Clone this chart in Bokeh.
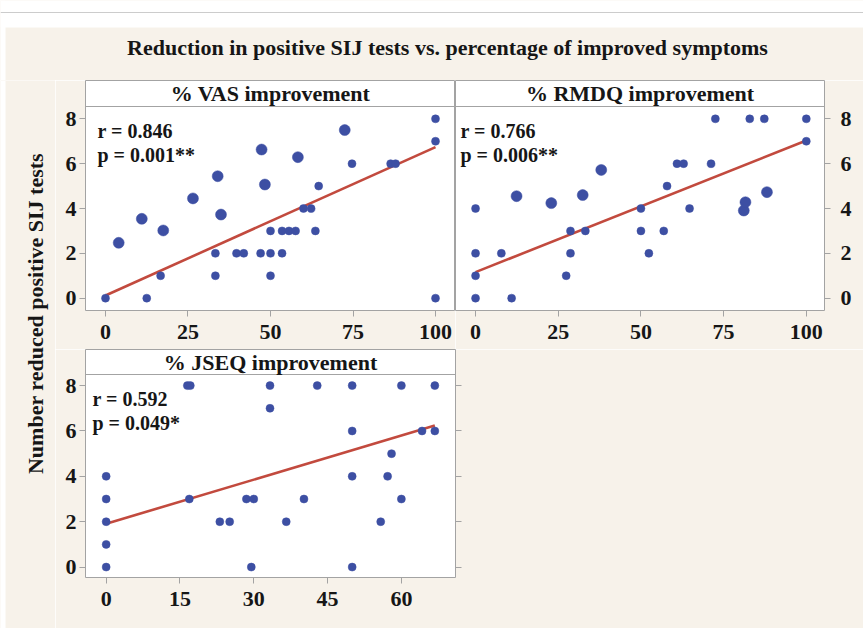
import math
from bokeh.plotting import figure
from bokeh.models import (Range1d, Label, Span, BoxAnnotation, LinearAxis,
                          FixedTicker, ColumnDataSource)
from bokeh.layouts import column, row
from bokeh.embed import file_html
from bokeh.resources import INLINE

# ---------------- data ----------------
TITLE = "Reduction in positive SIJ tests vs. percentage of improved symptoms"
Y_LABEL = "Number reduced positive SIJ tests"

vas_header = "% VAS improvement"
vas_x = [0, 4, 11, 12.5, 16.7, 17.5, 26.5, 33.3, 33.3, 34, 35, 39.7, 41.9, 47,
         47.3, 48.3, 50, 50, 50, 53.5, 53.5, 55.6, 57.6, 58.3, 60, 62.3, 63.6,
         64.6, 72.5, 74.7, 86.4, 87.9, 100, 100, 100]
vas_y = [0, 2.47, 3.54, 0, 1, 3.02, 4.45, 2, 1, 5.44, 3.73, 2, 2, 2,
         6.63, 5.07, 3, 2, 1, 2, 3, 3, 3, 6.29, 4, 4, 3,
         5, 7.5, 6, 6, 6, 8, 7, 0]
vas_big = [0, 1, 1, 0, 0, 1, 1, 0, 0, 1, 1, 0, 0, 0,
           1, 1, 0, 0, 0, 0, 0, 0, 0, 1, 0, 0, 0,
           0, 1, 0, 0, 0, 0, 0, 0]
vas_r = "r = 0.846"
vas_p = "p = 0.001**"
vas_fit = (0.12, 0.0662)   # intercept, slope

rm_header = "% RMDQ improvement"
rm_x = [0, 0, 0, 0, 7.8, 10.9, 12.4, 22.9, 27.4, 28.7, 28.7, 32.4, 33.2, 38,
        50, 50, 52.4, 56.9, 57.9, 60.9, 62.9, 64.7, 71.2, 72.5, 81.1, 81.6,
        82.9, 87.3, 88.1, 100, 100]
rm_y = [4, 2, 1, 0, 2, 0, 4.55, 4.24, 1, 3, 2, 4.6, 3, 5.72,
        4, 3, 2, 3, 5, 6, 6, 4, 6, 8, 3.91, 4.28,
        8, 8, 4.73, 8, 7]
rm_big = [0, 0, 0, 0, 0, 0, 1, 1, 0, 0, 0, 1, 0, 1,
          0, 0, 0, 0, 0, 0, 0, 0, 0, 0, 1, 1,
          0, 0, 1, 0, 0]
rm_r = "r = 0.766"
rm_p = "p = 0.006**"
rm_fit = (1.16, 0.0587)

js_header = "% JSEQ improvement"
js_x = [0, 0, 0, 0, 0, 16.5, 17.1, 16.9, 23.1, 25.1, 28.5, 30.0, 29.5, 33.3,
        33.3, 36.6, 40.2, 42.9, 50, 50, 50, 50, 55.8, 57.2, 58.0, 60, 60,
        64.2, 66.8, 66.8]
js_y = [4, 3, 2, 1, 0, 8, 8, 3, 2, 2, 3, 3, 0, 8,
        7, 2, 3, 8, 8, 6, 4, 0, 2, 4, 5, 8, 3,
        6, 8, 6]
js_big = [0] * len(js_x)
js_r = "r = 0.592"
js_p = "p = 0.049*"
js_fit = (1.91, 0.0648)

vas_xticks = [0, 25, 50, 75, 100]
rm_xticks = [0, 25, 50, 75, 100]
js_xticks = [0, 15, 30, 45, 60]
y_ticks = [0, 2, 4, 6, 8]

# ---------------- style ----------------
BEIGE = "#f7f2ea"
GREY = "#a3a3a3"
TXT = "#161616"
BLUE = "#3d4fa3"
RED = "#c24a3e"
FONT = "Liberation Serif"
FS = "22px"


def style_axis(ax, ticks, labels=True, standoff=4):
    ax.ticker = FixedTicker(ticks=ticks)
    ax.axis_line_color = None
    ax.major_tick_line_color = GREY
    ax.major_tick_out = 6
    ax.major_tick_in = 0
    ax.minor_tick_line_color = None
    ax.major_label_text_font = FONT
    ax.major_label_text_font_style = "bold"
    ax.major_label_text_font_size = FS
    ax.major_label_text_color = TXT
    ax.major_label_standoff = standoff
    if not labels:
        ax.major_label_overrides = {t: "" for t in ticks}


def panel(xs, ys, big, fit, header, rtxt, ptxt, xr, yr, xticks,
          frame_w, plot_h, header_h, borders, left_lab, right_axis,
          right_lab, stat_dx):
    y_lo, y_hi = yr
    y_top = y_hi + (y_hi - y_lo) * header_h / plot_h
    bl, br, bb = borders
    p = figure(frame_width=frame_w, frame_height=plot_h + header_h,
               x_range=Range1d(*xr), y_range=Range1d(y_lo, y_top),
               x_axis_location=None, y_axis_location=None,
               output_backend="svg", toolbar_location=None,
               min_border_left=bl, min_border_right=br,
               min_border_top=0, min_border_bottom=bb)
    p.background_fill_color = "white"
    p.border_fill_color = BEIGE
    p.outline_line_color = GREY
    p.outline_line_width = 1
    p.grid.visible = False

    xa = LinearAxis()
    style_axis(xa, xticks, True, 8)
    p.add_layout(xa, "below")
    if left_lab:
        ya = LinearAxis()
        style_axis(ya, y_ticks, True, 3)
        p.add_layout(ya, "left")
    if right_axis:
        ra = LinearAxis()
        style_axis(ra, y_ticks, right_lab, 10)
        p.add_layout(ra, "right")

    # header strip
    p.add_layout(Span(location=y_hi, dimension="width", line_color=GREY,
                      line_width=1))
    p.add_layout(Label(x=(xr[0] + xr[1]) / 2, y=y_hi, y_offset=header_h / 2,
                       text=header, text_align="center",
                       text_baseline="middle", text_font=FONT,
                       text_font_style="bold", text_font_size=FS,
                       text_color=TXT))

    # fitted line
    x0, x1 = min(xs), max(xs)
    b0, b1 = fit
    p.line([x0, x1], [b0 + b1 * x0, b0 + b1 * x1], line_color=RED,
           line_width=2.6)

    sizes = [11 if b else 8 for b in big]
    src = ColumnDataSource(dict(x=xs, y=ys, s=sizes))
    p.scatter("x", "y", size="s", source=src, marker="circle",
              fill_color=BLUE, line_color=BLUE, line_width=0.5)

    for txt, dy in ((rtxt, -24), (ptxt, -48)):
        p.add_layout(Label(x=xr[0], y=y_hi, x_offset=stat_dx, y_offset=dy,
                           text=txt, text_align="left",
                           text_baseline="middle", text_font=FONT,
                           text_font_style="bold", text_font_size="20px",
                           text_color=TXT))
    return p


W, H = 863, 628
TOP_H = 80
LAB_W = 55

p1 = panel(vas_x, vas_y, vas_big, vas_fit, vas_header, vas_r, vas_p,
           (-6.06, 106.06), (-0.55, 8.55), vas_xticks,
           370, 204, 26, (30, 0, 39), True, False, False, 12)
p2 = panel(rm_x, rm_y, rm_big, rm_fit, rm_header, rm_r, rm_p,
           (-6.06, 105.5), (-0.55, 8.55), rm_xticks,
           369, 204, 26, (0, 39, 39), False, True, True, 5)
p3 = panel(js_x, js_y, js_big, js_fit, js_header, js_r, js_p,
           (-4.2, 71.0), (-0.46, 8.49), js_xticks,
           370, 203, 25, (30, W - LAB_W - 30 - 370, 51), True, True, False, 7)

# top strip with title
top = figure(width=W, height=TOP_H, x_range=Range1d(0, W),
             y_range=Range1d(0, TOP_H), x_axis_location=None,
             y_axis_location=None, output_backend="svg",
             toolbar_location=None, min_border=0)
top.background_fill_color = BEIGE
top.border_fill_color = BEIGE
top.outline_line_color = None
top.grid.visible = False
top.add_layout(BoxAnnotation(bottom=TOP_H - 27, fill_color="white",
                             fill_alpha=1.0, line_alpha=0))
top.add_layout(BoxAnnotation(right=5, fill_color="white",
                             fill_alpha=1.0, line_alpha=0))
top.add_layout(Span(location=TOP_H - 12, dimension="width",
                    line_color="#cccccc", line_width=1))
top.add_layout(Label(x=447, y=TOP_H - 47, text=TITLE, text_align="center",
                     text_baseline="middle", text_font=FONT,
                     text_font_style="bold", text_font_size=FS,
                     text_color=TXT))

# left strip with y label
LAB_H = H - TOP_H
lab = figure(width=LAB_W, height=LAB_H, x_range=Range1d(0, LAB_W),
             y_range=Range1d(0, LAB_H), x_axis_location=None,
             y_axis_location=None, output_backend="svg",
             toolbar_location=None, min_border=0)
lab.background_fill_color = BEIGE
lab.border_fill_color = BEIGE
lab.outline_line_color = None
lab.grid.visible = False
lab.add_layout(BoxAnnotation(right=5, fill_color="white",
                             fill_alpha=1.0, line_alpha=0))
lab.add_layout(Label(x=35, y=LAB_H - (313 - TOP_H), text=Y_LABEL,
                     angle=math.pi / 2, text_align="center",
                     text_baseline="middle", text_font=FONT,
                     text_font_style="bold", text_font_size=FS,
                     text_color=TXT))

layout = column(top, row(lab, column(row(p1, p2), p3)))

open("out.html", "w").write(file_html(layout, INLINE))
